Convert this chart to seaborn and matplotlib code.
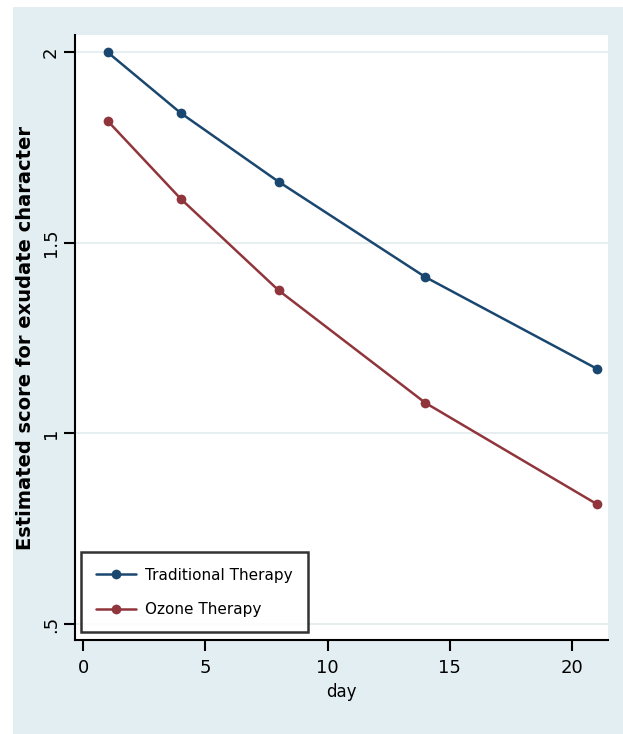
import numpy as np
import pandas as pd
import seaborn as sns
import matplotlib.pyplot as plt
from matplotlib.patches import Rectangle

# data
days = [1, 4, 8, 14, 21]
traditional = [2.00, 1.84, 1.66, 1.41, 1.17]
ozone = [1.82, 1.615, 1.375, 1.08, 0.815]
groups = ['Traditional Therapy', 'Ozone Therapy']
colors = ['#1a476f', '#90353b']

df = pd.DataFrame({
    'day': days * 2,
    'score': traditional + ozone,
    'group': [groups[0]] * len(days) + [groups[1]] * len(days),
})

sns.set_style('white')
plt.rcParams['font.family'] = ['DejaVu Sans']

fig = plt.figure(figsize=(6.23, 7.34), dpi=100)
fig.patch.set_facecolor('white')
# light blue graph region (stata style)
fig.patches.append(Rectangle((13 / 623, 0), 1 - 13 / 623, 1 - 7 / 734,
                             transform=fig.transFigure, facecolor='#e3eef2',
                             edgecolor='none', zorder=-10))

ax = fig.add_axes([75 / 623, 1 - 640 / 734, (608 - 75) / 623, (640 - 35) / 734])
ax.set_facecolor('white')

sns.lineplot(data=df, x='day', y='score', hue='group', palette=colors,
             hue_order=groups, marker='o', markersize=7, markeredgewidth=0,
             linewidth=1.8, ax=ax)

ax.set_xlim(-0.33, 21.47)
ax.set_ylim(0.458, 2.045)
ax.set_xticks([0, 5, 10, 15, 20])
ax.set_yticks([0.5, 1, 1.5, 2])
ax.set_yticklabels(['.5', '1', '1.5', '2'], rotation=90, va='center')
ax.yaxis.grid(True, color='#e3ebee', linewidth=1.2)
ax.set_axisbelow(True)

for s in ['top', 'right']:
    ax.spines[s].set_visible(False)
for s in ['left', 'bottom']:
    ax.spines[s].set_color('black')
    ax.spines[s].set_linewidth(1.5)
ax.tick_params(axis='both', direction='out', length=8, width=1.5,
               labelsize=13, colors='black', left=True, bottom=True)
ax.tick_params(axis='x', pad=6)
ax.tick_params(axis='y', pad=3)

ax.set_xlabel('day', fontsize=12, labelpad=4, color='black')
ax.set_ylabel('Estimated score for exudate character', fontsize=14,
              fontweight='bold', labelpad=5, color='black')

leg = ax.legend(loc='lower left', bbox_to_anchor=(0.011, 0.013), frameon=True,
                fancybox=False, fontsize=11, handlelength=2.6,
                borderpad=1.0, labelspacing=1.25, handletextpad=0.6,
                borderaxespad=0)
leg.get_frame().set_linewidth(1.8)
leg.get_frame().set_edgecolor('black')
leg.set_title(None)
for t in leg.get_texts():
    t.set_color('black')

fig.savefig('out.png', dpi=100, facecolor=fig.get_facecolor())
